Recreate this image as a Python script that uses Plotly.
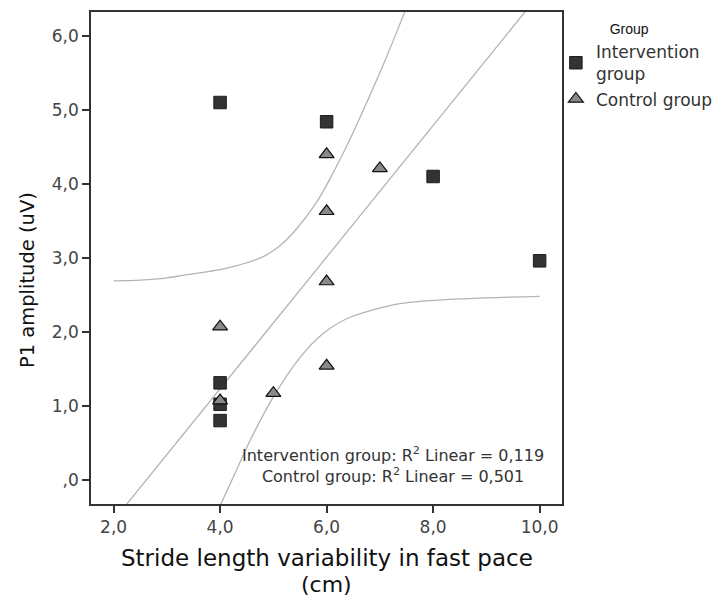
import plotly.graph_objects as go

# ---- data ----
interv_x = [4, 6, 8, 10, 4, 4, 4]
interv_y = [5.10, 4.84, 4.10, 2.96, 1.31, 1.02, 0.80]

control_x = [6, 7, 6, 6, 4, 6, 5, 4]
control_y = [4.40, 4.21, 3.63, 2.68, 2.07, 1.54, 1.17, 1.07]

# Control group linear fit and its 95% mean-CI band
fit_x = [2.0, 10.0]
fit_y = [-0.55, 6.57]

ci_upper_x = [2.0, 2.5, 3.0, 3.35, 4.0, 4.29, 4.79, 5.10, 5.41, 5.82, 6.13, 6.45, 6.76, 7.07, 7.37, 7.55]
ci_upper_y = [2.69, 2.70, 2.73, 2.77, 2.84, 2.89, 3.01, 3.15, 3.37, 3.76, 4.16, 4.62, 5.11, 5.62, 6.15, 6.48]

ci_lower_x = [3.90, 4.02, 4.25, 4.57, 5.0, 5.51, 5.94, 6.45, 7.38, 8.64, 10.0]
ci_lower_y = [-0.52, -0.32, 0.04, 0.54, 1.12, 1.66, 1.98, 2.20, 2.38, 2.45, 2.48]

x_tickvals = [2, 4, 6, 8, 10]
x_ticktext = ["2,0", "4,0", "6,0", "8,0", "10,0"]
y_tickvals = [0, 1, 2, 3, 4, 5, 6]
y_ticktext = [",0", "1,0", "2,0", "3,0", "4,0", "5,0", "6,0"]

x_title_lines = ["Stride length variability in fast pace", "(cm)"]
y_title = "P1 amplitude (uV)"
r2_text = "Intervention group: R<sup>2</sup> Linear = 0,119<br>Control group: R<sup>2</sup> Linear = 0,501"

FONT = "DejaVu Sans"
line_style = dict(color="#b4b4b4", width=1.3)

fig = go.Figure()

fig.add_trace(go.Scatter(x=ci_upper_x, y=ci_upper_y, mode="lines",
                         line=dict(**line_style, shape="spline", smoothing=0.8),
                         showlegend=False, hoverinfo="skip"))
fig.add_trace(go.Scatter(x=ci_lower_x, y=ci_lower_y, mode="lines",
                         line=dict(**line_style, shape="spline", smoothing=0.8),
                         showlegend=False, hoverinfo="skip"))
fig.add_trace(go.Scatter(x=fit_x, y=fit_y, mode="lines", line=line_style,
                         showlegend=False, hoverinfo="skip"))

fig.add_trace(go.Scatter(x=interv_x, y=interv_y, mode="markers", name="Intervention<br>group",
                         marker=dict(symbol="square", size=12.5, color="#333333",
                                     line=dict(color="#1e1e1e", width=1))))
fig.add_trace(go.Scatter(x=control_x, y=control_y, mode="markers", name="Control group",
                         marker=dict(symbol="triangle-up", size=13, color="#8a8a8a",
                                     line=dict(color="#111111", width=1.2))))

fig.add_annotation(x=0.642, y=0.079, xref="paper", yref="paper", xanchor="center", yanchor="middle",
                   text=r2_text, showarrow=False, align="center",
                   font=dict(family=FONT, size=16, color="#333333"))

# axis titles (as annotations for exact placement / line spacing)
fig.add_annotation(x=0.5, y=-0.109, xref="paper", yref="paper", xanchor="center", yanchor="middle",
                   text=x_title_lines[0], showarrow=False, font=dict(family=FONT, size=23, color="#111111"))
fig.add_annotation(x=0.5, y=-0.163, xref="paper", yref="paper", xanchor="center", yanchor="middle",
                   text=x_title_lines[1], showarrow=False, font=dict(family=FONT, size=22, color="#111111"))
fig.add_annotation(x=-0.136, y=0.455, xref="paper", yref="paper", xanchor="center", yanchor="middle",
                   text=y_title, textangle=-90, showarrow=False,
                   font=dict(family=FONT, size=19.5, color="#111111"))

axis_common = dict(showgrid=False, zeroline=False, showline=True, mirror=True, linecolor="#333333",
                   linewidth=1.5, ticks="outside", ticklen=7, tickwidth=1.5, tickcolor="#333333",
                   automargin=False,
                   tickfont=dict(family=FONT, size=17, color="#444444"))

fig.update_xaxes(range=[1.576, 10.42], tickvals=x_tickvals, ticktext=x_ticktext, **axis_common)
fig.update_yaxes(range=[-0.328, 6.324], tickvals=y_tickvals, ticktext=y_ticktext, **axis_common)

# the page body adds an 8px offset, so the figure is 8px smaller than the window
fig.update_layout(
    width=712, height=588,
    margin=dict(l=83, r=158, t=4, b=92, autoexpand=False),
    paper_bgcolor="white", plot_bgcolor="white",
    font=dict(family=FONT),
    legend=dict(x=0.987, xanchor="left", y=0.992, yanchor="top",
                title=dict(text="Group" + "&nbsp;" * 4, side="top center",
                           font=dict(family="Liberation Sans", size=14, color="#111111")),
                font=dict(family=FONT, size=17, color="#333333"),
                bgcolor="rgba(0,0,0,0)", tracegroupgap=0, itemwidth=30),
)

fig.write_html("out.html")
